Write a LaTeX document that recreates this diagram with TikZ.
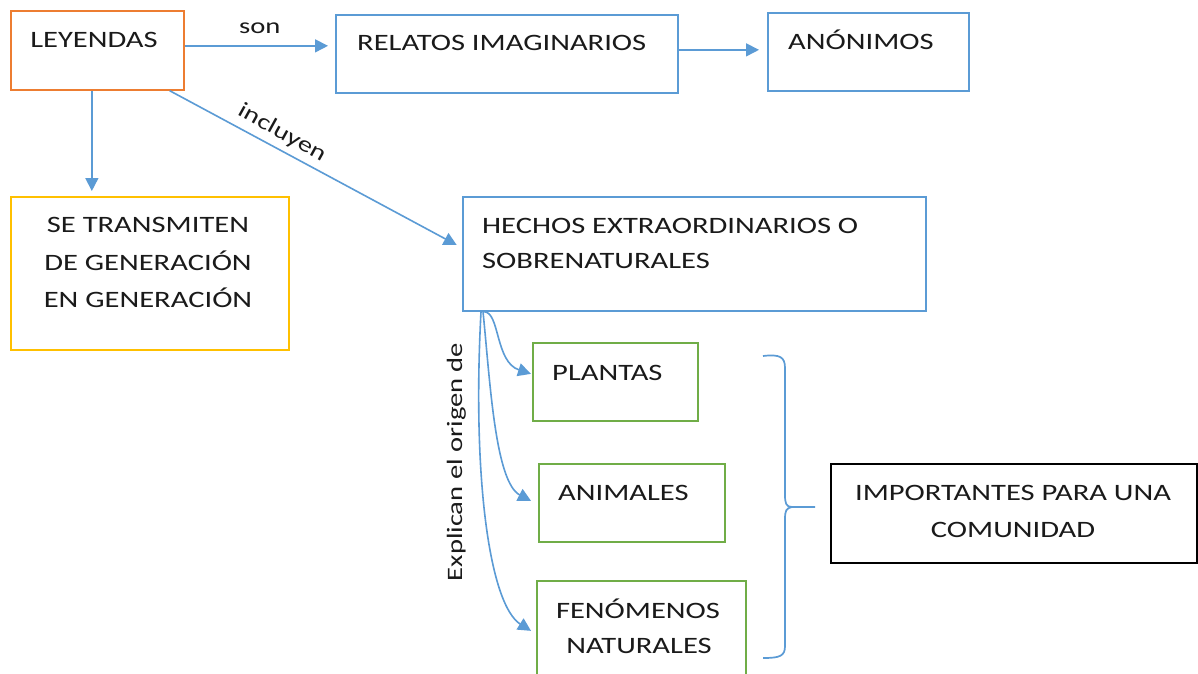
\documentclass[tikz,border=0pt]{standalone}
\usepackage{fontspec}
\setmainfont{Carlito}[FakeStretch=1.3]
\usetikzlibrary{arrows.meta,calc}
\definecolor{cblue}{HTML}{5B9BD5}
\definecolor{corange}{HTML}{ED7D31}
\definecolor{cyellow}{HTML}{FFC000}
\definecolor{cgreen}{HTML}{70AD47}
\definecolor{ctext}{HTML}{1A1A1A}
\tikzset{
  box/.style={draw, line width=1.7pt, inner sep=0pt, anchor=north west},
  txt/.style={inner sep=0pt, text=ctext, font=\fontsize{23.5}{28}\selectfont},
  lbl/.style={inner sep=0pt, text=ctext, font=\fontsize{22}{26}\selectfont},
  arr/.style={draw=cblue, line width=1.6pt, -{Triangle[width=13pt,length=13pt]}, color=cblue},
  bracepath/.style={draw=cblue, line width=1.7pt}
}
\begin{document}
\begin{tikzpicture}[x=1pt,y=-1pt]
\useasboundingbox[fill=white] (0,0) rectangle (1198,673);
% boxes
\node[box, draw=corange, minimum width=173pt, minimum height=79pt] (leyendas) at (10,10) {};
\node[box, draw=cblue, minimum width=342pt, minimum height=78pt] (relatos) at (335,14) {};
\node[box, draw=cblue, minimum width=201pt, minimum height=78pt] (anonimos) at (767,12) {};
\node[box, draw=cyellow, minimum width=278pt, minimum height=153pt] (transmiten) at (10,196) {};
\node[box, draw=cblue, minimum width=463pt, minimum height=114pt] (hechos) at (462,196) {};
\node[box, draw=cgreen, minimum width=165pt, minimum height=78pt] (plantas) at (532,342) {};
\node[box, draw=cgreen, minimum width=186pt, minimum height=78pt] (animales) at (538,463) {};
\node[box, draw=cgreen, minimum width=209pt, minimum height=100pt] (fenomenos) at (536,580) {};
\node[box, draw=black, minimum width=366pt, minimum height=99pt] (importantes) at (830,463) {};
% texts
\node[txt, anchor=base] (tleyendas) at (94,47) {LEYENDAS};
\node[txt, anchor=base west] (trelatos) at (357,50) {RELATOS IMAGINARIOS};
\node[txt, anchor=base west] (tanonimos) at (788,49) {ANÓNIMOS};
\node[txt, anchor=base] (ttrans1) at (148,232) {SE TRANSMITEN};
\node[txt, anchor=base] (ttrans2) at (148,270) {DE GENERACIÓN};
\node[txt, anchor=base] (ttrans3) at (148,307) {EN GENERACIÓN};
\node[txt, anchor=base west] (thechos1) at (482,233) {HECHOS EXTRAORDINARIOS O};
\node[txt, anchor=base west] (thechos2) at (482,268) {SOBRENATURALES};
\node[txt, anchor=base west] (tplantas) at (552,380) {PLANTAS};
\node[txt, anchor=base west] (tanimales) at (558,500) {ANIMALES};
\node[txt, anchor=base] (tfen1) at (638,618) {FENÓMENOS};
\node[txt, anchor=base] (tfen2) at (639,653) {NATURALES};
\node[txt, anchor=base] (timp1) at (1013,500) {IMPORTANTES PARA UNA};
\node[txt, anchor=base] (timp2) at (1013,537) {COMUNIDAD};
% connectors
\draw[arr, shorten >=7pt] ([yshift=4.5pt]leyendas.east) -- ([yshift=4.5pt]leyendas.east -| relatos.west)
  node[lbl, midway, anchor=base, yshift=12pt] (son) {son};
\draw[arr, shorten >=8pt] ([yshift=4pt]relatos.east) -- ([yshift=4pt]relatos.east -| anonimos.west);
\draw[arr, shorten >=5pt] ([xshift=-5.5pt]leyendas.south) -- ([xshift=-5.5pt]leyendas.south |- transmiten.north);
\draw[arr, shorten >=6pt] ([xshift=-15pt]leyendas.south east) -- ([yshift=6pt]hechos.west);
\node[lbl, rotate=-29] (incluyen) at (282,133) {incluyen};
% curved arrows
\draw[arr] ([xshift=22pt]hechos.south west) .. controls (500,312) and (495,362) .. ([xshift=-1pt,yshift=8pt]plantas.west);
\draw[arr] ([xshift=21pt]hechos.south west) .. controls (490,380) and (495,482) .. ([xshift=-7pt,yshift=2pt]animales.west);
\draw[arr] ([xshift=19pt]hechos.south west) .. controls (472,480) and (490,605) .. ([xshift=-5pt]fenomenos.west);
\node[lbl, rotate=90, anchor=base] (explican) at (462,462) {Explican el origen de};
% brace
\draw[bracepath] (763,356) .. controls (780,354) and (785,357) .. (785,368) -- (785,495)
  .. controls (785,503) and (786,507) .. (792,507) -- (815,507);
\draw[bracepath] (792,507) .. controls (786,508) and (785,511) .. (785,519) -- (785,646)
  .. controls (785,656) and (780,658) .. (763,658);
\end{tikzpicture}
\end{document}
